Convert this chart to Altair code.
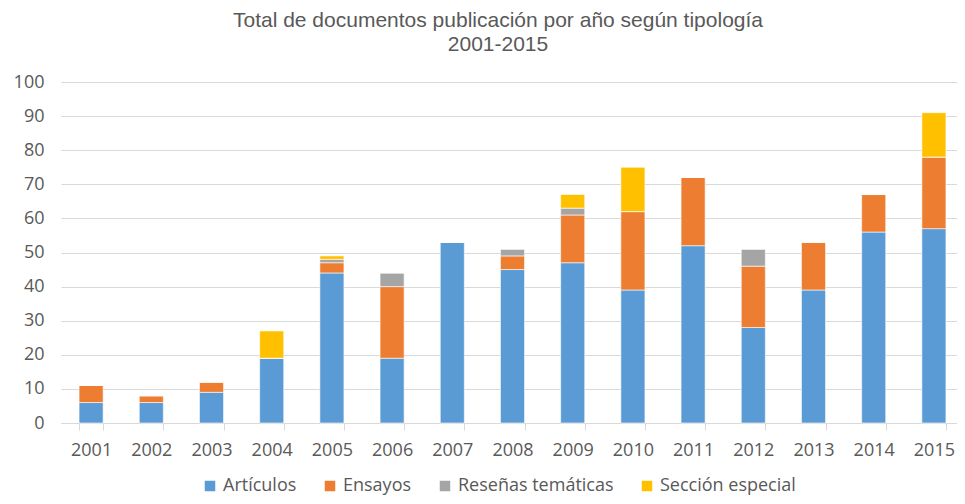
import altair as alt
import pandas as pd

years = ["2001", "2002", "2003", "2004", "2005", "2006", "2007", "2008",
         "2009", "2010", "2011", "2012", "2013", "2014", "2015"]
series = ["Artículos", "Ensayos", "Reseñas temáticas", "Sección especial"]
articulos = [6, 6, 9, 19, 44, 19, 53, 45, 47, 39, 52, 28, 39, 56, 57]
ensayos = [5, 2, 3, 0, 3, 21, 0, 4, 14, 23, 20, 18, 14, 11, 21]
resenas = [0, 0, 0, 0, 1, 4, 0, 2, 2, 0, 0, 5, 0, 0, 0]
seccion = [0, 0, 0, 8, 1, 0, 0, 0, 4, 13, 0, 0, 0, 0, 13]
colors = ["#5B9BD5", "#ED7D31", "#A5A5A5", "#FFC000"]

rows = []
for i, y in enumerate(years):
    for k, (name, vals) in enumerate(zip(series, [articulos, ensayos, resenas, seccion])):
        rows.append({"Año": y, "Tipo": name, "Valor": vals[i], "orden": k})
df = pd.DataFrame(rows)

FONT = "Open Sans"
GREY = "#595959"

chart = alt.Chart(df).mark_bar(stroke="white", strokeWidth=0.6).encode(
    x=alt.X("Año:N", sort=years, title=None,
            scale=alt.Scale(paddingInner=0.6, paddingOuter=0.3, range=[0, 903]),
            axis=alt.Axis(labelAngle=0, tickBand="extent", tickSize=7,
                          tickColor="#d9d9d9", domainColor="#d9d9d9",
                          labelColor=GREY, labelFont=FONT, labelFontSize=18,
                          labelPadding=11, grid=False)),
    y=alt.Y("Valor:Q", stack="zero", title=None,
            scale=alt.Scale(domain=[0, 100]),
            axis=alt.Axis(values=list(range(0, 101, 10)), domain=False, ticks=False,
                          gridColor="#d9d9d9", gridWidth=1,
                          labelColor=GREY, labelFont=FONT, labelFontSize=18,
                          labelPadding=17)),
    color=alt.Color("Tipo:N", sort=series,
                    scale=alt.Scale(domain=series, range=colors),
                    legend=alt.Legend(title=None, orient="none", direction="horizontal",
                                      legendX=140, legendY=395,
                                      symbolType="square", symbolSize=110,
                                      symbolStrokeWidth=0, labelOffset=4,
                                      labelFont=FONT, labelFontSize=18, labelColor=GREY,
                                      columnPadding=24, labelLimit=300)),
    order=alt.Order("orden:Q", sort="ascending"),
).properties(
    width=896, height=341,
    title=alt.TitleParams(
        text=["Total de documentos publicación por año según tipología", "2001-2015"],
        font="Liberation Sans", fontSize=21, fontWeight="normal", color=GREY,
        anchor="middle", lineHeight=24, offset=18, dx=-11),
    autosize=alt.AutoSizeParams(type="none"),
    padding={"left": 53, "top": 74, "right": 0, "bottom": 73},
).configure_view(stroke=None)

chart.save("out.html", embed_options={"renderer": "svg", "actions": False})
